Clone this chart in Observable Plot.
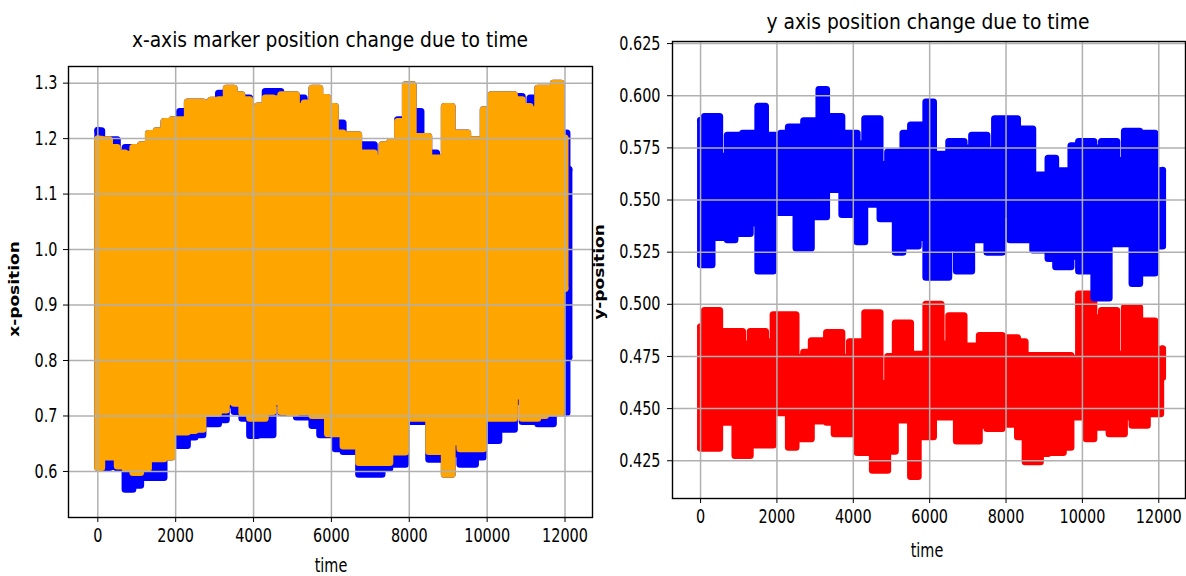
<!DOCTYPE html>
<html>
<head>
<meta charset="utf-8">
<script src="https://cdn.jsdelivr.net/npm/d3@7"></script>
<script src="https://cdn.jsdelivr.net/npm/@observablehq/plot@0.6"></script>
<style>
  html, body { margin: 0; padding: 0; background: #fff; }
  #wrap { position: relative; width: 1186px; height: 576px; overflow: hidden; background: #fff; }
  #left { position: absolute; left: 0; top: 0; }
  #right { position: absolute; left: 600px; top: 0; }
  #overlay { position: absolute; left: 0; top: 0; pointer-events: none; }
  #overlay text { font-family: "DejaVu Sans", sans-serif; fill: #000; }
</style>
</head>
<body>
<div id="wrap">
  <div id="left"></div>
  <div id="right"></div>
  <svg id="overlay" width="1186" height="576"></svg>
</div>
<script>
// ---------- data ----------
const time = [0,200,400,600,800,1000,1200,1400,1600,1800,
  2000,2200,2400,2600,2800,3000,3200,3400,3600,3800,
  4000,4200,4400,4600,4800,5000,5200,5400,5600,5800,
  6000,6200,6400,6600,6800,7000,7200,7400,7600,7800,
  8000,8200,8400,8600,8800,9000,9200,9400,9600,9800,
  10000,10200,10400,10600,10800,11000,11200,11400,11600,11800,
  12000,12100];

// left chart: x-position, blue series (upper / lower envelope)
const xBlueHigh = [1.214,1.198,1.198,1.174,1.184,1.184,1.189,1.209,1.214,1.231,
  1.234,1.249,1.266,1.266,1.264,1.269,1.282,1.291,1.279,1.273,
  1.254,1.259,1.285,1.285,1.279,1.279,1.273,1.264,1.291,1.274,
  1.258,1.228,1.207,1.207,1.189,1.189,1.165,1.189,1.194,1.234,
  1.297,1.249,1.204,1.174,1.165,1.258,1.21,1.21,1.198,1.198,
  1.252,1.279,1.279,1.279,1.276,1.258,1.273,1.291,1.291,1.3,
  1.21,1.144];
const xBlueLow = [0.607,0.607,0.609,0.606,0.568,0.575,0.589,0.589,0.589,0.626,
  0.647,0.647,0.662,0.666,0.686,0.686,0.693,0.72,0.708,0.696,
  0.665,0.666,0.666,0.723,0.706,0.706,0.698,0.698,0.683,0.666,
  0.666,0.641,0.636,0.636,0.595,0.595,0.595,0.606,0.613,0.613,
  0.69,0.69,0.69,0.622,0.622,0.595,0.632,0.613,0.613,0.626,
  0.656,0.656,0.676,0.676,0.726,0.69,0.69,0.686,0.686,0.706,
  0.706,0.806];
// left chart: x-position, orange series
const xOrangeHigh = [1.199,1.198,1.184,1.174,1.172,1.184,1.189,1.209,1.214,1.231,
  1.234,1.234,1.266,1.266,1.264,1.269,1.27,1.291,1.279,1.27,
  1.254,1.259,1.273,1.272,1.279,1.279,1.258,1.264,1.291,1.274,
  1.258,1.21,1.207,1.207,1.174,1.174,1.165,1.189,1.194,1.231,
  1.297,1.204,1.204,1.165,1.165,1.258,1.21,1.21,1.198,1.198,
  1.252,1.279,1.279,1.279,1.27,1.258,1.252,1.291,1.291,1.3,
  1.2,null];
const xOrangeLow = [0.607,0.626,0.626,0.61,0.606,0.598,0.606,0.623,0.623,0.626,
  0.671,0.671,0.674,0.676,0.705,0.705,0.711,0.726,0.723,0.706,
  0.696,0.696,0.708,0.726,0.708,0.706,0.708,0.708,0.701,0.701,
  0.668,0.668,0.646,0.646,0.616,0.616,0.616,0.616,0.635,0.635,
  0.696,0.696,0.696,0.636,0.636,0.595,0.653,0.641,0.641,0.641,
  0.696,0.696,0.696,0.696,0.736,0.696,0.696,0.701,0.706,0.706,
  0.93,null];

// right chart: y-position, blue series
const yBlueHigh = [0.588,0.590,0.590,0.571,0.581,0.581,0.582,0.582,0.595,0.581,
  0.581,0.582,0.585,0.585,0.588,0.588,0.603,0.590,0.590,0.582,
  0.582,0.577,0.589,0.589,0.567,0.573,0.573,0.582,0.586,0.586,
  0.597,0.572,0.572,0.578,0.578,0.575,0.581,0.581,0.574,0.589,
  0.589,0.589,0.584,0.584,0.562,0.562,0.570,0.564,0.564,0.576,
  0.578,0.578,0.575,0.578,0.578,0.569,0.583,0.583,0.582,0.582,
  0.564,0.564];
const yBlueLow = [0.519,0.519,0.532,0.532,0.531,0.534,0.534,0.539,0.516,0.516,
  0.544,0.544,0.544,0.527,0.527,0.542,0.542,0.555,0.555,0.543,
  0.543,0.530,0.548,0.548,0.541,0.541,0.525,0.528,0.528,0.532,
  0.513,0.513,0.513,0.527,0.516,0.516,0.531,0.531,0.525,0.525,
  0.543,0.531,0.531,0.531,0.526,0.526,0.522,0.518,0.518,0.523,
  0.516,0.516,0.503,0.503,0.529,0.529,0.529,0.510,0.515,0.515,
  0.528,0.528];
// right chart: y-position, red series
const yRedHigh = [0.489,0.497,0.497,0.487,0.487,0.487,0.481,0.487,0.487,0.482,
  0.495,0.495,0.495,0.4745,0.477,0.4825,0.4825,0.4865,0.4865,0.4745,
  0.482,0.482,0.496,0.496,0.462,0.475,0.491,0.491,0.476,0.476,
  0.500,0.500,0.481,0.4945,0.4945,0.480,0.480,0.485,0.485,0.485,
  0.484,0.484,0.482,0.4755,0.4755,0.4755,0.4755,0.4755,0.4755,0.474,
  0.505,0.505,0.4935,0.497,0.497,0.476,0.4985,0.4985,0.492,0.492,
  0.4785,0.4785];
const yRedLow = [0.431,0.431,0.431,0.4435,0.4435,0.4275,0.4275,0.4325,0.4325,0.4325,
  0.448,0.448,0.4315,0.4355,0.4355,0.444,0.444,0.4435,0.438,0.438,
  0.438,0.429,0.429,0.4205,0.4205,0.4295,0.4445,0.4445,0.4175,0.4365,
  0.4365,0.446,0.446,0.446,0.4345,0.4345,0.4345,0.442,0.4405,0.4405,
  0.4425,0.4425,0.4365,0.4245,0.4245,0.4285,0.429,0.429,0.4315,0.446,
  0.446,0.4355,0.441,0.441,0.438,0.438,0.446,0.442,0.442,0.4475,
  0.4475,0.465];

const timeTicks = [0,2000,4000,6000,8000,10000,12000];
const xPosTicks = [0.6,0.7,0.8,0.9,1.0,1.1,1.2,1.3];
const yPosTicks = [0.425,0.450,0.475,0.500,0.525,0.550,0.575,0.600,0.625];

const titles = ["x-axis marker position change due to time", "y axis position change due to time"];
const xLabel = "time";
const yLabels = ["x-position", "y-position"];

// ---------- helpers ----------
const rows = (hi, lo) => time.map((t, i) => ({t, hi: hi[i], lo: lo[i]}))
  .filter(d => d.hi != null && d.lo != null);

const LW = 7;
function band(data, color) {
  const ends = [data[0], data[data.length - 1]];
  return [
    Plot.areaY(data, {x: "t", y1: "lo", y2: "hi", curve: "step", fill: color}),
    Plot.lineY(data, {x: "t", y: "hi", curve: "step", stroke: color, strokeWidth: LW, strokeLinecap: "round", strokeLinejoin: "round"}),
    Plot.lineY(data, {x: "t", y: "lo", curve: "step", stroke: color, strokeWidth: LW, strokeLinecap: "round", strokeLinejoin: "round"}),
    Plot.ruleX(ends, {x: "t", y1: "lo", y2: "hi", stroke: color, strokeWidth: LW, strokeLinecap: "round"})
  ];
}

// narrow the tick labels horizontally (the reference glyphs are condensed)
function squish(svg, k) {
  svg.querySelectorAll("text").forEach(t => {
    const tr = t.getAttribute("transform") || "";
    const x = t.getAttribute("x");
    let extra = "";
    if (x != null && isFinite(+x)) {
      extra = ` translate(${+x},0)`;
      t.removeAttribute("x");
    }
    t.setAttribute("transform", `${tr}${extra} scale(${k},1)`);
  });
}

const TICK_FS = 19;
function chart({series, xDomain, yDomain, yTicks, yFmt, width, height, margins, tickPad}) {
  const svg = Plot.plot({
    width, height,
    marginLeft: margins[0], marginRight: margins[1], marginTop: margins[2], marginBottom: margins[3],
    x: {domain: xDomain, label: null},
    y: {domain: yDomain, label: null},
    style: {fontFamily: "DejaVu Sans, sans-serif", fontSize: TICK_FS + "px", color: "#000", background: "transparent", overflow: "visible"},
    marks: [
      ...series.flatMap(([d, c]) => band(d, c)),
      Plot.gridX(timeTicks, {stroke: "#b0b0b0", strokeOpacity: 1, strokeWidth: 1.5}),
      Plot.gridY(yTicks, {stroke: "#b0b0b0", strokeOpacity: 1, strokeWidth: 1.5}),
      Plot.axisX(timeTicks, {tickSize: 5, tickPadding: 6, fontSize: TICK_FS, stroke: "#000", tickFormat: d3.format("d"), label: null}),
      Plot.axisY(yTicks, {tickSize: 5, tickPadding: tickPad, fontSize: TICK_FS, stroke: "#000", tickFormat: d3.format(yFmt), label: null}),
      Plot.frame({stroke: "#000", strokeWidth: 1.4})
    ]
  });
  squish(svg, 0.76);
  return svg;
}

// ---------- left chart ----------
document.getElementById("left").append(chart({
  series: [[rows(xBlueHigh, xBlueLow), "#0000ff"], [rows(xOrangeHigh, xOrangeLow), "#ffa500"]],
  xDomain: [-753, 12706], yDomain: [0.517, 1.330], yTicks: xPosTicks, yFmt: ".1f",
  width: 600, height: 576, margins: [68, 8, 66, 59], tickPad: 6
}));

// ---------- right chart ----------
document.getElementById("right").append(chart({
  series: [[rows(yRedHigh, yRedLow), "#ff0000"], [rows(yBlueHigh, yBlueLow), "#0000ff"]],
  xDomain: [-735, 12700], yDomain: [0.4069, 0.626], yTicks: yPosTicks, yFmt: ".3f",
  width: 586, height: 576, margins: [72, 1, 41, 78], tickPad: 7
}));

// ---------- titles & axis labels ----------
const ov = d3.select("#overlay");
function label(text, tx, ty, opts = {}) {
  ov.append("text")
    .attr("transform", `translate(${tx},${ty}) scale(${opts.k ?? 0.76},1)${opts.rot ? " rotate(-90)" : ""}`)
    .attr("text-anchor", "middle")
    .attr("font-size", opts.size ?? 19)
    .attr("font-weight", opts.bold ? "bold" : "normal")
    .text(text);
}
label(titles[0], 330, 47, {size: 21, k: 0.89});
label(titles[1], 928, 29, {size: 21, k: 0.89});
label(xLabel, 331, 572);
label(xLabel, 927, 557);
label(yLabels[0], 19, 289, {bold: true, rot: true, size: 17, k: 0.85});
label(yLabels[1], 604, 272, {bold: true, rot: true, size: 17, k: 0.85});
</script>
</body>
</html>
